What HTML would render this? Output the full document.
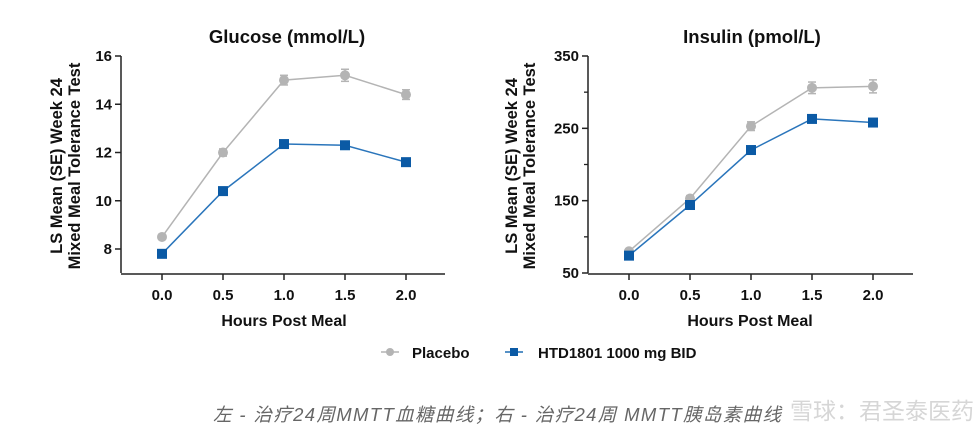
<!DOCTYPE html>
<html><head><meta charset="utf-8"><style>
body{margin:0;background:#fff;width:975px;height:441px;overflow:hidden;font-family:"Liberation Sans",sans-serif}
svg text{font-family:"Liberation Sans","Noto Sans CJK SC",sans-serif}
</style></head><body>
<svg id="s" width="975" height="441">
<text x="287" y="43" font-size="18.5" font-weight="bold" text-anchor="middle" fill="#111">Glucose (mmol/L)</text>
<text x="752" y="43" font-size="18.5" font-weight="bold" text-anchor="middle" fill="#111">Insulin (pmol/L)</text>
<g transform="translate(66,166) rotate(-90)"><text x="0" y="-4" font-size="16.5" font-weight="bold" text-anchor="middle" fill="#111">LS Mean (SE) Week 24</text><text x="0" y="14" font-size="16.5" font-weight="bold" text-anchor="middle" fill="#111">Mixed Meal Tolerance Test</text></g>
<g transform="translate(521,166) rotate(-90)"><text x="0" y="-4" font-size="16.5" font-weight="bold" text-anchor="middle" fill="#111">LS Mean (SE) Week 24</text><text x="0" y="14" font-size="16.5" font-weight="bold" text-anchor="middle" fill="#111">Mixed Meal Tolerance Test</text></g>
<text x="284" y="326" font-size="16" font-weight="bold" text-anchor="middle" fill="#111">Hours Post Meal</text>
<text x="750" y="326" font-size="16" font-weight="bold" text-anchor="middle" fill="#111">Hours Post Meal</text>
<g>
<g><line x1="381" y1="352" x2="399" y2="352" stroke="#b4b4b4" stroke-width="1.5"/><circle cx="390" cy="352" r="4" fill="#b4b4b4"/><text x="412" y="358" font-size="15" font-weight="bold" fill="#111">Placebo</text></g>
<g><line x1="505" y1="352" x2="523" y2="352" stroke="#1f6db3" stroke-width="1.5"/><rect x="510" y="348" width="8" height="8" fill="#0b5aa5"/><text x="538" y="358" font-size="15" font-weight="bold" fill="#111">HTD1801 1000 mg BID</text></g>
</g>
<text x="213" y="421" font-size="18.5" font-style="italic" fill="#666" textLength="568">左 - 治疗24周MMTT血糖曲线；右 - 治疗24周 MMTT胰岛素曲线</text>
<text x="790" y="419" font-size="23" fill="#ccc" opacity="0.8">雪球：君圣泰医药</text>
</svg>
<script>
const xCats=[0,0.5,1,1.5,2];
const xLabels=["0.0","0.5","1.0","1.5","2.0"];
const gluPlacebo=[8.5,12.0,15.0,15.2,14.4];
const gluPlaceboSE=[0.1,0.15,0.2,0.25,0.2];
const gluHTD=[7.8,10.4,12.35,12.3,11.6];
const gluTicks=[8,10,12,14,16];
const insPlacebo=[80,153,253,306,308];
const insPlaceboSE=[3,4,6,8,9];
const insHTD=[74,144,220,263,258];
const insTicks=[50,150,250,350];
const insMinor=[100,200,300];
const NS="http://www.w3.org/2000/svg";
const svg=document.getElementById('s');
function mk(t,a,p){const e=document.createElementNS(NS,t);for(const k in a)e.setAttribute(k,a[k]);(p||svg).appendChild(e);return e;}
function chart(cfg){
  const g=mk('g',{});
  
  
  const xs=v=>cfg.x0+(v-0)*(cfg.x1-cfg.x0)/2;
  const ys=v=>cfg.yb+(v-cfg.ymin)*(cfg.yt-cfg.yb)/(cfg.ymax-cfg.ymin);
  const ax=mk('g',{},g);
  
  
  mk('line',{x1:cfg.ax,y1:cfg.yt,x2:cfg.ax,y2:cfg.axY,stroke:'#222','stroke-width':1.5},ax);
  mk('line',{x1:cfg.ax,y1:cfg.axY+1,x2:cfg.axEnd,y2:cfg.axY+1,stroke:'#222','stroke-width':1.5},ax);
  cfg.ticks.forEach(t=>{const y=ys(t);mk('line',{x1:cfg.ax-6,y1:y,x2:cfg.ax,y2:y,stroke:'#222','stroke-width':1.5},ax);
    const tx=mk('text',{x:cfg.ax-9,y:y+5,'font-size':15,'font-weight':'bold','text-anchor':'end',fill:'#111'},ax);tx.textContent=t;});
  (cfg.minor||[]).forEach(t=>{const y=ys(t);mk('line',{x1:cfg.ax-4,y1:y,x2:cfg.ax,y2:y,stroke:'#222','stroke-width':1.3},ax);});
  xCats.forEach((c,i)=>{const x=xs(c);mk('line',{x1:x,y1:cfg.axY+1,x2:x,y2:cfg.axY+7,stroke:'#222','stroke-width':1.5},ax);
    const tx=mk('text',{x:x,y:cfg.axY+27,'font-size':15,'font-weight':'bold','text-anchor':'middle',fill:'#111'},ax);tx.textContent=xLabels[i];});
  [[cfg.p,cfg.pse,'#b4b4b4','#b4b4b4','placebo',true],[cfg.h,null,'#2a75bb','#0b5aa5','htd1801',false]].forEach(s=>{
    const sg=mk('g',{},g);
    
    
    mk('polyline',{points:s[0].map((v,i)=>xs(xCats[i])+','+ys(v)).join(' '),fill:'none',stroke:s[2],'stroke-width':1.5},sg);
    s[0].forEach((v,i)=>{const x=xs(xCats[i]),y=ys(v);
      if(s[1]){const e=s[1][i];mk('line',{x1:x,y1:ys(v+e),x2:x,y2:ys(v-e),stroke:s[2],'stroke-width':1.5},sg);
        mk('line',{x1:x-4,y1:ys(v+e),x2:x+4,y2:ys(v+e),stroke:s[2],'stroke-width':1.5},sg);
        mk('line',{x1:x-4,y1:ys(v-e),x2:x+4,y2:ys(v-e),stroke:s[2],'stroke-width':1.5},sg);}
      let m;
      if(s[5]) m=mk('circle',{cx:x,cy:y,r:5,fill:s[3]},sg);
      else m=mk('rect',{x:x-5,y:y-5,width:10,height:10,fill:s[3]},sg);
      
      
    });
  });
}
chart({name:'glucose-chart',x0:162,x1:406,ax:121,axY:273,axEnd:445,yt:56,yb:249,ymin:8,ymax:16,ticks:gluTicks,p:gluPlacebo,pse:gluPlaceboSE,h:gluHTD});
chart({name:'insulin-chart',x0:629,x1:873,ax:588,axY:273,axEnd:913,yt:56,yb:273,ymin:50,ymax:350,ticks:insTicks,minor:insMinor,p:insPlacebo,pse:insPlaceboSE,h:insHTD});
</script>
</body></html>
